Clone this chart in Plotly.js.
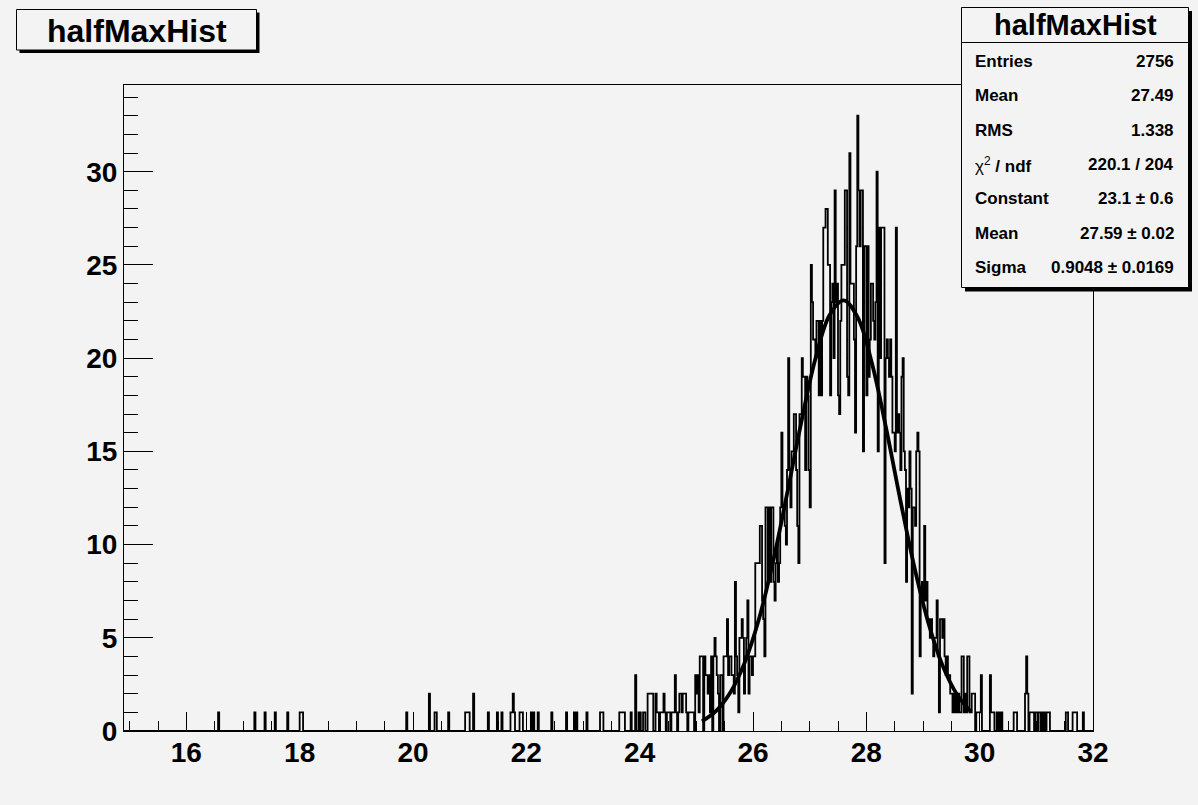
<!DOCTYPE html>
<html>
<head>
<meta charset="utf-8">
<script src="https://cdn.plot.ly/plotly-3.0.1.min.js"></script>
<style>
html,body{margin:0;padding:0;background:#f3f3f3;}
#chart{width:1198px;height:805px;}
</style>
</head>
<body>
<div id="chart"></div>
<script>
// ---------------- DATA ----------------
const histTitle = "halfMaxHist";
const xMin = 14.9, xMax = 32.0, binWidth = 0.02;

// sparse bins (bin low edge, count) outside the dense core
const sparseX = [16.56,17.20,17.38,17.56,17.78,18.00,18.02,18.04,19.88,20.28,20.38,20.40,20.62,
  20.92,20.94,20.96,20.98,21.06,21.32,21.48,21.56,21.72,21.74,21.76,21.78,21.88,21.90,21.92,
  22.08,22.12,22.20,22.44,22.70,22.84,22.88,23.06,23.30,23.32,23.34,23.64,23.66,23.68,23.70,23.72,
  23.84,23.92,23.98,24.00,24.06,24.08,24.14,24.16,24.18,24.20,24.22,24.28,24.30,24.32,24.36,24.38,
  24.40,24.42,24.44,24.48,24.50,24.52,24.56,24.58,24.60,24.62,24.64,24.68,24.70,24.72,24.74,24.76,
  24.78,24.80,24.82,24.86,24.88,
  30.18,30.20,30.22,30.24,30.30,30.34,30.38,30.60,30.62,30.64,30.80,30.82,30.84,
  30.88,30.90,30.92,30.94,30.98,31.00,31.04,31.06,31.10,31.14,31.18,31.20,31.22,
  31.52,31.54,31.64,31.66,31.68,31.70,31.82];
const sparseCount = [1,1,1,1,1,1,1,1,1,2,1,1,1,
  1,1,1,1,2,1,1,1,1,1,2,1,1,1,1,
  1,1,1,1,1,1,1,1,1,1,1,1,1,1,1,1,
  1,3,1,1,1,1,2,2,2,2,2,2,1,1,1,1,
  1,2,1,1,1,1,1,1,1,3,1,1,2,2,1,2,
  2,2,1,1,1,
  3,1,1,1,1,1,1,1,1,1,2,4,2,
  1,1,1,1,1,1,1,1,1,1,1,1,1,
  1,1,1,1,1,1,1];

// dense core: consecutive bins starting at coreStart
const coreStart = 24.90;
const coreCounts = [
  1,1,1,0,3,2,3,1,4,4,
  4,0,4,3,3,2,3,1,4,0,
  4,5,4,3,2,0,3,3,0,4,
  4,4,6,3,4,4,3,3,2,8,
  4,3,1,5,5,6,5,2,4,5,
  7,2,4,4,3,4,4,9,9,9,
  9,11,11,7,6,4,12,12,8,12,
  8,12,12,8,7,9,10,8,9,12,
  16,12,12,11,10,14,20,14,12,15,
  15,17,17,14,11,9,17,17,20,19,
  19,14,19,18,14,12,25,23,21,21,
  20,22,22,18,22,18,22,27,27,28,
  28,25,25,18,23,24,20,29,23,24,
  18,17,22,25,25,25,29,29,19,18,
  31,24,24,24,21,16,26,33,29,26,
  29,29,15,26,26,18,26,19,21,24,
  24,22,21,23,30,15,27,20,27,27,
  27,9,20,21,20,19,21,19,16,16,
  15,27,16,17,16,14,19,20,15,14,
  8,13,12,15,13,2,12,12,11,15,
  16,15,4,7,8,7,11,7,8,6,
  6,5,6,5,4,5,5,7,4,1,
  6,6,5,6,4,3,4,3,3,2,
  2,1,2,1,2,1,2,1,1,4,
  4,1,2,1,4,4,1,1,2,2,
  2,0,1,1,1,1,3,0,0,0];

// fitted gaussian curve
const fitX = [25.1,25.35,25.6,25.85,26.1,26.35,26.6,26.85,27.1,27.35,27.6,27.85,28.1,28.35,28.6,28.85,29.1,29.35,29.6,29.85];
const fitY = [0.52,1.08,2.06,3.64,5.95,9.03,12.70,16.53,19.95,22.30,23.10,22.17,19.71,16.23,12.39,8.76,5.74,3.48,1.96,1.02];

// statistics box
const statLabels = ["Entries","Mean","RMS","\u03C7<sup>2</sup> <b>/ ndf</b>","Constant","Mean","Sigma"];
const statValues = ["2756","27.49","1.338","220.1 / 204","23.1 \u00B1 0.6","27.59 \u00B1 0.02","0.9048 \u00B1 0.0169"];

// tick values
const xTickStep = 2, xMinorStep = 0.5, yTickStep = 5, yMinorStep = 1;
const yMax = 34.65;

// ---------------- BUILD HISTOGRAM ----------------
const nBins = Math.round((xMax - xMin) / binWidth);
const counts = new Array(nBins).fill(0);
function binOf(x){ return Math.round((x - xMin) / binWidth + 1e-6); }
sparseX.forEach((x,i)=>{ const b=binOf(x); if(b>=0&&b<nBins) counts[b]=sparseCount[i]; });
coreCounts.forEach((c,i)=>{ const b=binOf(coreStart)+i; if(b>=0&&b<nBins) counts[b]=c; });
const hx=[], hy=[];
hx.push(xMin); hy.push(0);
for(let i=0;i<nBins;i++){ hx.push(xMin+i*binWidth); hy.push(counts[i]); }
hx.push(xMax); hy.push(counts[nBins-1]);
hx.push(xMax); hy.push(0);

// ---------------- LAYOUT GEOMETRY ----------------
const W=1198, H=805, ML=124, MR=105, MT=85, MB=74;
const PL=ML, PR=W-MR, PT=MT, PB=H-MB;
const fx = p => (p-PL)/(PR-PL);
const fy = p => (PB-p)/(PB-PT);
const bg = '#f3f3f3';
const font = 'Liberation Sans, Arial, Helvetica, sans-serif';

const shapes = [
  {type:'rect',xref:'paper',yref:'paper',x0:fx(19.5),x1:fx(259.5),y0:fy(12.5),y1:fy(53),fillcolor:'#000',line:{width:0},layer:'above'},
  {type:'rect',xref:'paper',yref:'paper',x0:fx(16.5),x1:fx(256.5),y0:fy(9.5),y1:fy(50),fillcolor:bg,line:{color:'#000',width:1},layer:'above'},
  {type:'rect',xref:'paper',yref:'paper',x0:fx(965),x1:fx(1192),y0:fy(11),y1:fy(291.5),fillcolor:'#000',line:{width:0},layer:'above'},
  {type:'rect',xref:'paper',yref:'paper',x0:fx(961.5),x1:fx(1188.5),y0:fy(7.5),y1:fy(287.5),fillcolor:bg,line:{color:'#000',width:1},layer:'above'},
  {type:'line',xref:'paper',yref:'paper',x0:fx(961.5),x1:fx(1188.5),y0:fy(42.5),y1:fy(42.5),line:{color:'#000',width:1},layer:'above'}
];

const annotations = [
  {xref:'paper',yref:'paper',x:fx(136.5),y:fy(31),text:'<b>'+histTitle+'</b>',showarrow:false,xanchor:'center',yanchor:'middle',font:{family:font,size:32,color:'#000'}},
  {xref:'paper',yref:'paper',x:fx(1075),y:fy(25),text:'<b>'+histTitle+'</b>',showarrow:false,xanchor:'center',yanchor:'middle',font:{family:font,size:29,color:'#000'}}
];
statLabels.forEach((lab,i)=>{
  const yc = 61.3 + 34.4*i;
  annotations.push({xref:'paper',yref:'paper',x:fx(973),y:fy(yc),text:(i===3?lab:'<b>'+lab+'</b>'),showarrow:false,xanchor:'left',yanchor:'middle',font:{family:font,size:17,color:'#000'}});
  annotations.push({xref:'paper',yref:'paper',x:fx(1176),y:fy(yc),text:'<b>'+statValues[i]+'</b>',showarrow:false,xanchor:'right',yanchor:'middle',font:{family:font,size:17,color:'#000'}});
});

const traces = [
  {x:hx,y:hy,type:'scatter',mode:'lines',line:{color:'#000',width:1.8,shape:'hv'},hoverinfo:'skip',cliponaxis:true},
  {x:fitX,y:fitY,type:'scatter',mode:'lines',line:{color:'#000',width:3.8,shape:'spline',smoothing:1},hoverinfo:'skip'}
];

const layout = {
  width:W,height:H,
  margin:{l:ML,r:MR,t:MT,b:MB,pad:0},
  paper_bgcolor:bg,plot_bgcolor:bg,
  showlegend:false,
  xaxis:{range:[xMin,xMax],showgrid:false,zeroline:false,showline:true,mirror:true,linecolor:'#000',linewidth:1,
    ticks:'inside',ticklen:19,tickwidth:1,tickcolor:'#000',tick0:0,dtick:xTickStep,ticklabelstandoff:-4,
    minor:{ticks:'inside',ticklen:10,tickwidth:1,tickcolor:'#000',dtick:xMinorStep,tick0:0,showgrid:false},
    tickfont:{family:font,size:28,color:'#000',weight:'bold'},fixedrange:true},
  yaxis:{range:[0,yMax],showgrid:false,zeroline:false,showline:true,mirror:true,linecolor:'#000',linewidth:1,
    ticks:'inside',ticklen:29,tickwidth:1,tickcolor:'#000',tick0:0,dtick:yTickStep,
    minor:{ticks:'inside',ticklen:14,tickwidth:1,tickcolor:'#000',dtick:yMinorStep,tick0:0,showgrid:false},
    tickfont:{family:font,size:28,color:'#000',weight:'bold'},fixedrange:true},
  shapes:shapes,annotations:annotations
};

Plotly.newPlot('chart',traces,layout,{displayModeBar:false,staticPlot:true});
</script>
</body>
</html>
